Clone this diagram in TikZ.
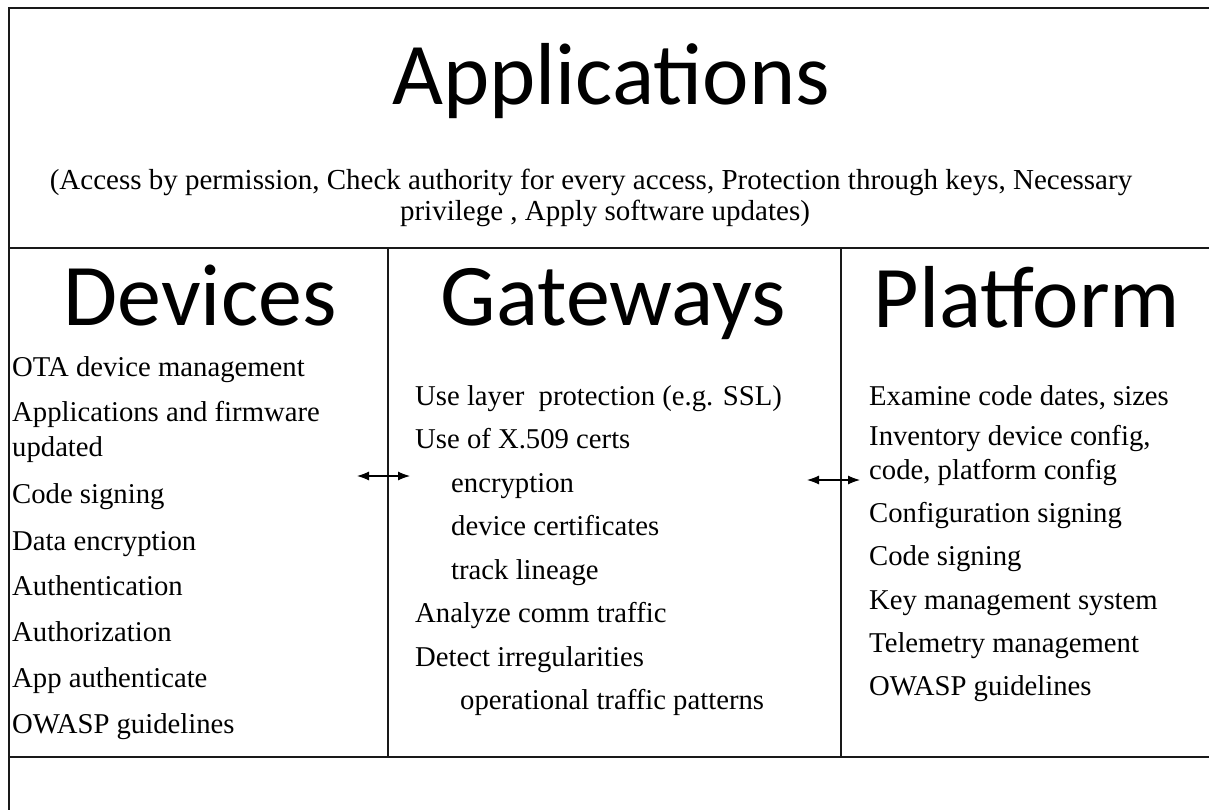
\documentclass[tikz,border=0pt]{standalone}
\usepackage{fontspec}
\setmainfont{Liberation Serif}
\newfontfamily\headfont{Carlito}
\usetikzlibrary{arrows.meta,positioning}
\tikzset{%
    heading/.style={%
        font=\headfont\fontsize{88}{98}\selectfont, anchor=base, inner sep=0pt
    },
    note/.style={%
        font=\fontsize{29}{31}\selectfont, anchor=base, inner sep=0pt
    },
    item/.style={%
        font=\fontsize{28.7}{34}\selectfont, anchor=base west, inner sep=0pt
    },
    frame/.style={%
        line width=1.6pt, black!90
    },
    link/.style={%
        <->, >={Latex[length=12pt,width=9pt]}, line width=1.1pt
    },
}

\begin{document}
\begin{tikzpicture}[x=1pt,y=-1pt]
    \useasboundingbox (0,0) rectangle (1209,810);

    % layer frame
    \draw[frame] (9,810) -- (9,8) -- (1215,8);
    \draw[frame] (9,248) -- (1215,248);
    \draw[frame] (9,757) -- (1215,757);
    \draw[frame] (388,248) -- (388,757);
    \draw[frame] (841,248) -- (841,757);

    \node[heading] (apps) at (611,105) {Applications};
    \node[note] (note) at (591,190) {(Access by permission, Check authority for every access, Protection through keys, Necessary};
    \node[note] (note2) at (605,221) {privilege , Apply software updates)};

    \node[heading] (devices) at (200,325) {Devices};
    \node[heading] (gateways) at (613,325) {Gateways};
    \node[heading] (platform) at (1027,327) {Platform};

    % devices
    \node[item] (d1) at (12,376) {OTA device management};
    \node[item] (d2) at (12,421) {Applications and firmware};
    \node[item] (d2b) at (12,456) {updated};
    \node[item] (d3) at (12,503) {Code signing};
    \node[item] (d4) at (12,550) {Data encryption};
    \node[item] (d5) at (12,595) {Authentication};
    \node[item] (d6) at (12,641) {Authorization};
    \node[item] (d7) at (12,687) {App authenticate};
    \node[item] (d8) at (12,733) {OWASP guidelines};

    % gateways
    \node[item] (g1) at (415,405) {Use layer\ \ protection (e.g. SSL)};
    \node[item] (g2) at (415,448) {Use of X.509 certs};
    \node[item] (g3) at (451,492) {encryption};
    \node[item] (g4) at (451,535) {device certificates};
    \node[item] (g5) at (451,579) {track lineage};
    \node[item] (g6) at (415,622) {Analyze comm traffic};
    \node[item] (g7) at (415,666) {Detect irregularities};
    \node[item] (g8) at (460,709) {operational traffic patterns};

    % platform
    \node[item] (p1) at (869,405) {Examine code dates, sizes};
    \node[item] (p2) at (869,445) {Inventory device config,};
    \node[item] (p2b) at (869,479) {code, platform config};
    \node[item] (p3) at (869,522) {Configuration signing};
    \node[item] (p4) at (869,565) {Code signing};
    \node[item] (p5) at (869,609) {Key management system};
    \node[item] (p6) at (869,652) {Telemetry management};
    \node[item] (p7) at (869,695) {OWASP guidelines};

    \coordinate (dg west) at (357,476);
    \coordinate (dg east) at (410,476);
    \draw[link] (dg west) -- (dg east);

    \coordinate (gp west) at (807,480);
    \coordinate (gp east) at (860,480);
    \draw[link] (gp west) -- (gp east);

\end{tikzpicture}
\end{document}
